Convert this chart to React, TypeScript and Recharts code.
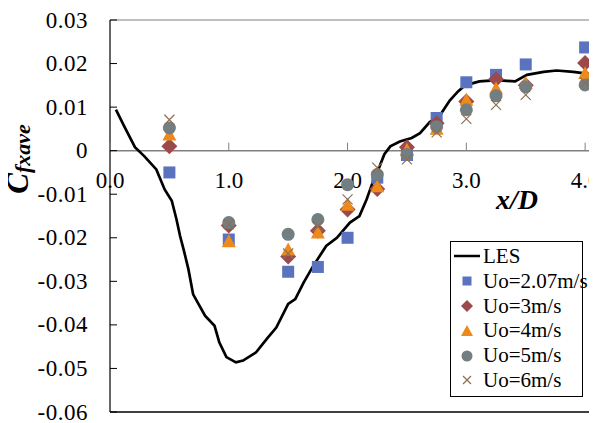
import React from "react";
import {
  ComposedChart,
  Line,
  Scatter,
  XAxis,
  YAxis,
  ReferenceLine,
  ReferenceDot,
} from "recharts";

// LES curve
const lesX = [
  0.05, 0.12, 0.21, 0.29, 0.39, 0.46, 0.52, 0.56, 0.59, 0.62, 0.66, 0.7, 0.8, 0.88, 0.92, 0.98, 1.06,
  1.12, 1.23, 1.32, 1.4, 1.5, 1.56, 1.63, 1.71, 1.82, 1.91, 2.02, 2.1, 2.16, 2.21, 2.27, 2.31, 2.36,
  2.44, 2.54, 2.61, 2.69, 2.78, 2.86, 2.93, 2.99, 3.11, 3.26, 3.41, 3.51, 3.65, 3.76, 3.9, 4.1,
];
const lesY = [
  0.0094, 0.0056, 0.0008, -0.0013, -0.0043, -0.0089, -0.0115, -0.0158, -0.0196, -0.0227, -0.0272,
  -0.033, -0.0379, -0.0402, -0.044, -0.0474, -0.0486, -0.0482, -0.0463, -0.0432, -0.0406, -0.0352,
  -0.0341, -0.0303, -0.0265, -0.0219, -0.02, -0.0165, -0.015, -0.0112, -0.0074, -0.0036, -0.0008,
  0.001, 0.0021, 0.0029, 0.004, 0.0065, 0.0082, 0.0115, 0.0136, 0.015, 0.0159, 0.0162, 0.0159,
  0.0174, 0.0181, 0.0184, 0.0181, 0.0174,
];

// measurement positions
const xPos = [0.5, 1.0, 1.5, 1.75, 2.0, 2.25, 2.5, 2.75, 3.0, 3.25, 3.5, 4.0];
const u207 = [-0.005, -0.0204, -0.0278, -0.0267, -0.02, -0.0062, -0.001, 0.0075, 0.0157, 0.0174, 0.0198, 0.0237];
const u3 = [0.001, -0.0172, -0.0243, -0.0184, -0.0135, -0.0088, 0.0008, 0.0063, 0.0113, 0.0164, 0.015, 0.0201];
const u4 = [0.0037, -0.0208, -0.0227, -0.0188, -0.0124, -0.0082, 0.0002, 0.005, 0.0117, 0.0143, 0.0155, 0.0178];
const u5 = [0.0052, -0.0165, -0.0192, -0.0158, -0.0078, -0.0055, -0.0009, 0.0055, 0.0094, 0.0126, 0.0147, 0.0151];
const u6 = [0.0071, -0.0169, -0.0236, -0.0174, -0.0112, -0.0039, -0.002, 0.0042, 0.0073, 0.0105, 0.0128, 0.0156];

const xTicks = [0, 1, 2, 3, 4];
const yTicks = [-0.06, -0.05, -0.04, -0.03, -0.02, -0.01, 0, 0.01, 0.02, 0.03];

const FONT = "'Liberation Serif', 'Times New Roman', serif";
const BLUE = "#5B73BE";
const RED = "#9B4A4B";
const ORANGE = "#EE8A1C";
const GRAY = "#727E82";
const BROWN = "#8E6E53";

const lesData = lesX.map((x, i) => ({ x, y: lesY[i] }));
const toPts = (vals: number[]) => xPos.map((x, i) => ({ x, y: vals[i] }));

const Square = ({ cx, cy, s = 12 }: any) => (
  <rect x={cx - s / 2} y={cy - s / 2} width={s} height={s} fill={BLUE} />
);
const Diamond = ({ cx, cy, s = 8 }: any) => (
  <path d={`M${cx},${cy - s}L${cx + s},${cy}L${cx},${cy + s}L${cx - s},${cy}Z`} fill={RED} />
);
const Tri = ({ cx, cy, s = 7 }: any) => (
  <path d={`M${cx},${cy - s}L${cx + s},${cy + s * 0.85}L${cx - s},${cy + s * 0.85}Z`} fill={ORANGE} />
);
const Circ = ({ cx, cy, s = 6.5 }: any) => <circle cx={cx} cy={cy} r={s} fill={GRAY} />;
const Cross = ({ cx, cy, s = 5 }: any) => (
  <path
    d={`M${cx - s},${cy - s}L${cx + s},${cy + s}M${cx - s},${cy + s}L${cx + s},${cy - s}`}
    stroke={BROWN}
    strokeWidth={1.2}
    fill="none"
  />
);

const YTick = ({ x, y, payload }: any) => (
  <g>
    <line x1={x + 22} x2={x + 29} y1={y} y2={y} stroke="#000" />
    <text x={x} y={y} textAnchor="end" dominantBaseline="central" fontFamily={FONT} fontSize={23} letterSpacing={0.5} fill="#000">
      {payload.value === 0 ? "0" : payload.value.toFixed(2)}
    </text>
  </g>
);

const xTickShape = (label: string) => (p: any) => (
  <g>
    <line x1={p.cx} x2={p.cx} y1={p.cy} y2={p.cy - 8} stroke="#808080" />
    <text x={p.cx} y={p.cy + 30} textAnchor="middle" dominantBaseline="central" fontFamily={FONT} fontSize={23} fill="#000">
      {label}
    </text>
  </g>
);

const legendItems = [
  { name: "LES", icon: <line x1={0} x2={26} y1={8} y2={8} stroke="#000" strokeWidth={2.5} /> },
  { name: "Uo=2.07m/s", icon: <Square cx={13} cy={8} s={9} /> },
  { name: "Uo=3m/s", icon: <Diamond cx={13} cy={8} s={6} /> },
  { name: "Uo=4m/s", icon: <Tri cx={13} cy={8} s={6} /> },
  { name: "Uo=5m/s", icon: <Circ cx={13} cy={8} s={5.5} /> },
  { name: "Uo=6m/s", icon: <Cross cx={13} cy={8} s={4} /> },
];

const LegendBox = () => (
  <div
    style={{
      position: "absolute",
      left: 450,
      top: 241,
      width: 133,
      height: 156,
      border: "1px solid #000",
      background: "#fff",
      fontFamily: FONT,
      fontSize: 21,
      paddingTop: 2,
      boxSizing: "border-box",
    }}
  >
    {legendItems.map((it) => (
      <div key={it.name} style={{ display: "flex", alignItems: "center", height: 24.8, whiteSpace: "nowrap" }}>
        <svg width={29} height={16} style={{ marginLeft: 3, flexShrink: 0 }}>
          {it.icon}
        </svg>
        <span>{it.name}</span>
      </div>
    ))}
  </div>
);

export default function App() {
  return (
    <div style={{ position: "relative", width: 597, height: 423, margin: "-8px 0 0 -8px", background: "#fff", overflow: "hidden" }}>
      <ComposedChart width={597} height={423} margin={{ top: 20, right: 0, bottom: 11, left: 0 }}>
        <XAxis type="number" dataKey="x" domain={[0, 4.1]} hide allowDataOverflow />
        <YAxis
          type="number"
          dataKey="y"
          width={110}
          domain={[-0.06, 0.03]}
          ticks={yTicks}
          allowDataOverflow
          interval={0}
          tickSize={0}
          tickMargin={22}
          tickLine={false}
          axisLine={{ stroke: "#000", strokeWidth: 1.2 }}
          tick={<YTick />}
        />
        <ReferenceLine y={0.03} stroke="#808080" strokeWidth={1.2} />
        <ReferenceLine y={-0.06} stroke="#000" strokeWidth={1.5} />
        <ReferenceLine y={0} stroke="#808080" strokeWidth={1.5} />
        {xTicks.map((t) => (
          <ReferenceDot key={t} x={t} y={0} r={0} shape={xTickShape(t.toFixed(1))} />
        ))}
        <Line data={lesData} dataKey="y" type="linear" stroke="#000" strokeWidth={2.7} dot={false} isAnimationActive={false} />
        <Scatter name="Uo=2.07m/s" data={toPts(u207)} dataKey="y" shape={<Square />} isAnimationActive={false} />
        <Scatter name="Uo=3m/s" data={toPts(u3)} dataKey="y" shape={<Diamond />} isAnimationActive={false} />
        <Scatter name="Uo=4m/s" data={toPts(u4)} dataKey="y" shape={<Tri />} isAnimationActive={false} />
        <Scatter name="Uo=5m/s" data={toPts(u5)} dataKey="y" shape={<Circ />} isAnimationActive={false} />
        <Scatter name="Uo=6m/s" data={toPts(u6)} dataKey="y" shape={<Cross />} isAnimationActive={false} />
      </ComposedChart>
      <LegendBox />
      <svg width={60} height={423} style={{ position: "absolute", left: 0, top: 0 }}>
        <text
          x={28}
          y={159}
          transform="rotate(-90, 28, 159)"
          textAnchor="middle"
          fontFamily={FONT}
          fontWeight="bold"
          fontStyle="italic"
          fill="#000"
        >
          <tspan fontSize={31}>C</tspan>
          <tspan fontSize={22} dy={2}>fxave</tspan>
        </text>
      </svg>
      <div
        style={{
          position: "absolute",
          left: 496,
          top: 185,
          fontFamily: FONT,
          fontWeight: "bold",
          fontStyle: "italic",
          fontSize: 28,
          lineHeight: "30px",
        }}
      >
        x/D
      </div>
    </div>
  );
}
